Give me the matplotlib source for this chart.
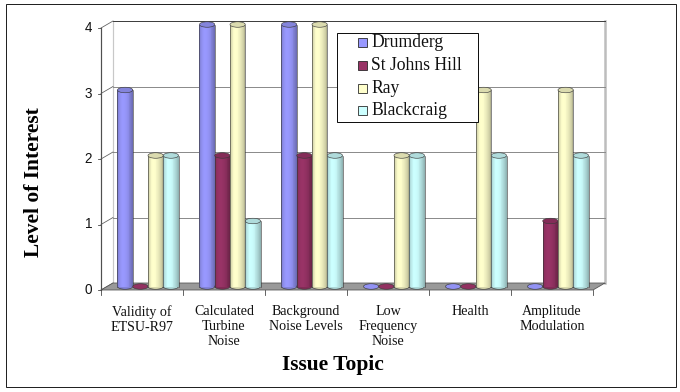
import numpy as np
import matplotlib
matplotlib.use("Agg")
import matplotlib.pyplot as plt
from matplotlib.patches import Rectangle, Ellipse, Polygon
from matplotlib.colors import to_rgb

categories = ["Validity of\nETSU-R97", "Calculated\nTurbine\nNoise",
              "Background\nNoise Levels", "Low\nFrequency\nNoise",
              "Health", "Amplitude\nModulation"]
series = ["Drumderg", "St Johns Hill", "Ray", "Blackcraig"]
drumderg = [3, 4, 4, 0, 0, 0]
st_johns_hill = [0, 2, 2, 0, 0, 1]
ray = [2, 4, 4, 2, 3, 3]
blackcraig = [2, 1, 2, 2, 2, 2]
colors = ["#9999FF", "#993366", "#FFFFCC", "#CCFFFF"]
y_ticks = [0, 1, 2, 3, 4]

values = [drumderg, st_johns_hill, ray, blackcraig]

W, H, DPI = 680, 392, 72
fig = plt.figure(figsize=(W / DPI, H / DPI), dpi=DPI)
ax = fig.add_axes([101 / W, 1 - 290 / H, 492 / W, 262 / H])
ax.set_xlim(0, 6)
ax.set_ylim(0, 4)
ax.axis("off")

serif = "Liberation Serif"
sans = "Liberation Sans"


def px(x, y):
    # figure position from pixel offsets measured from the top-left corner
    return x / W, 1 - y / H


# depth of the fake 3d box, in data units
DX = 12 / 82
DY = 7 / 65.5
cap_h = 5.5 / 65.5
gap = 0.128
bar_w = (1 - 2 * gap) / 4

# outer frame
fig.patches.append(Rectangle(px(6, 387), 670 / W, 383 / H,
                             transform=fig.transFigure, fill=False,
                             edgecolor="#222222", lw=1))

# floor
ax.add_patch(Polygon([(0, 0), (6, 0), (6 + DX, DY), (DX, DY)], closed=True,
                     facecolor="#999999", edgecolor="#555555", lw=0.8,
                     clip_on=False, zorder=1))

# back wall grid, left wall diagonals
for v in y_ticks:
    c = "#404040" if v == 4 else "#8C8C8C"
    ax.plot([DX, 6 + DX], [v + DY, v + DY], color=c, lw=1, clip_on=False, zorder=0.5)
    ax.plot([0, DX], [v, v + DY], color="#606060", lw=0.8, clip_on=False, zorder=0.5)
    ax.plot([-0.04, 0], [v, v], color="#404040", lw=0.8, clip_on=False)
    ax.annotate(str(v), xy=(0, v), xytext=(-9, 0), textcoords="offset points",
                ha="right", va="center", fontsize=13.5, family=sans, color="#111111")
ax.plot([DX, DX], [DY, 4 + DY], color="#C8C8C8", lw=1.2, clip_on=False, zorder=0.4)
ax.plot([6 + DX, 6 + DX], [DY, 4 + DY], color="#BDBDBD", lw=2.5, clip_on=False, zorder=0.4)
ax.plot([0, 0], [0, 4], color="#505050", lw=1.2, clip_on=False, zorder=2)

# category ticks and labels
for i in range(7):
    ax.plot([i, i], [0, -0.07], color="#404040", lw=0.8, clip_on=False)
for i, lab in enumerate(categories):
    ax.annotate(lab, xy=(i + 0.5, 0), xytext=(0, -15), textcoords="offset points",
                ha="center", va="top", fontsize=14, family=serif,
                linespacing=1.22, color="#111111")


def shade(rgb, t):
    # brighter a third of the way across, darker towards the rims
    if t < 0.35:
        f = 1.0 - 0.22 * ((0.35 - t) / 0.35) ** 2
    else:
        f = 1.0 - 0.32 * ((t - 0.35) / 0.65) ** 2
    return tuple(np.clip(np.array(rgb) * f, 0, 1))


def cylinder(x0, h, color, z):
    rgb = to_rgb(color)
    base = DY / 2
    xc = x0 + bar_w / 2
    edge = "#3A3A3A"
    if h == 0:
        ax.add_patch(Ellipse((xc, base), bar_w, cap_h, facecolor=shade(rgb, 0.6),
                             edgecolor=edge, lw=0.6, clip_on=False, zorder=z))
        return
    ax.add_patch(Ellipse((xc, base), bar_w, cap_h, facecolor=shade(rgb, 0.8),
                         edgecolor=edge, lw=0.6, clip_on=False, zorder=z))
    n = 18
    for k in range(n):
        ax.add_patch(Rectangle((x0 + k * bar_w / n, base), bar_w / n + 0.002, h,
                               facecolor=shade(rgb, (k + 0.5) / n), lw=0,
                               antialiased=False, clip_on=False, zorder=z + 0.1))
    ax.plot([x0, x0], [base, base + h], color=edge, lw=0.6, clip_on=False, zorder=z + 0.2)
    ax.plot([x0 + bar_w, x0 + bar_w], [base, base + h], color=edge, lw=0.6,
            clip_on=False, zorder=z + 0.2)
    top = tuple(np.array(rgb) * 0.86)
    ax.add_patch(Ellipse((xc, base + h), bar_w, cap_h, facecolor=top,
                         edgecolor=edge, lw=0.6, clip_on=False, zorder=z + 0.3))


for i in range(len(categories)):
    for s in range(len(series)):
        x0 = i + gap + s * bar_w + DX / 2
        cylinder(x0, values[s][i], colors[s], 3 + s)

# legend box, built by hand so the padding sits like Excel's
fig.patches.append(Rectangle(px(337, 122), 141 / W, 89 / H, transform=fig.transFigure,
                             facecolor="white", edgecolor="#111111", lw=1, zorder=20))
for k, (name, c) in enumerate(zip(series, colors)):
    row = 42.5 + 22.8 * k
    fig.patches.append(Rectangle(px(358, row + 4.5), 9 / W, 9 / H,
                                 transform=fig.transFigure, facecolor=c,
                                 edgecolor="#222222", lw=0.8, zorder=21))
    fig.text(*px(371, row), name, ha="left", va="center", fontsize=17.6,
             family=serif, color="#111111", zorder=21)

fig.text(*px(333, 365), "Issue Topic", ha="center", va="center",
         fontsize=21.5, fontweight="bold", family=serif)
fig.text(*px(34, 182), "Level of Interest", ha="center", va="center",
         rotation=90, fontsize=21.5, fontweight="bold", family=serif)

fig.savefig("out.png", dpi=DPI)
